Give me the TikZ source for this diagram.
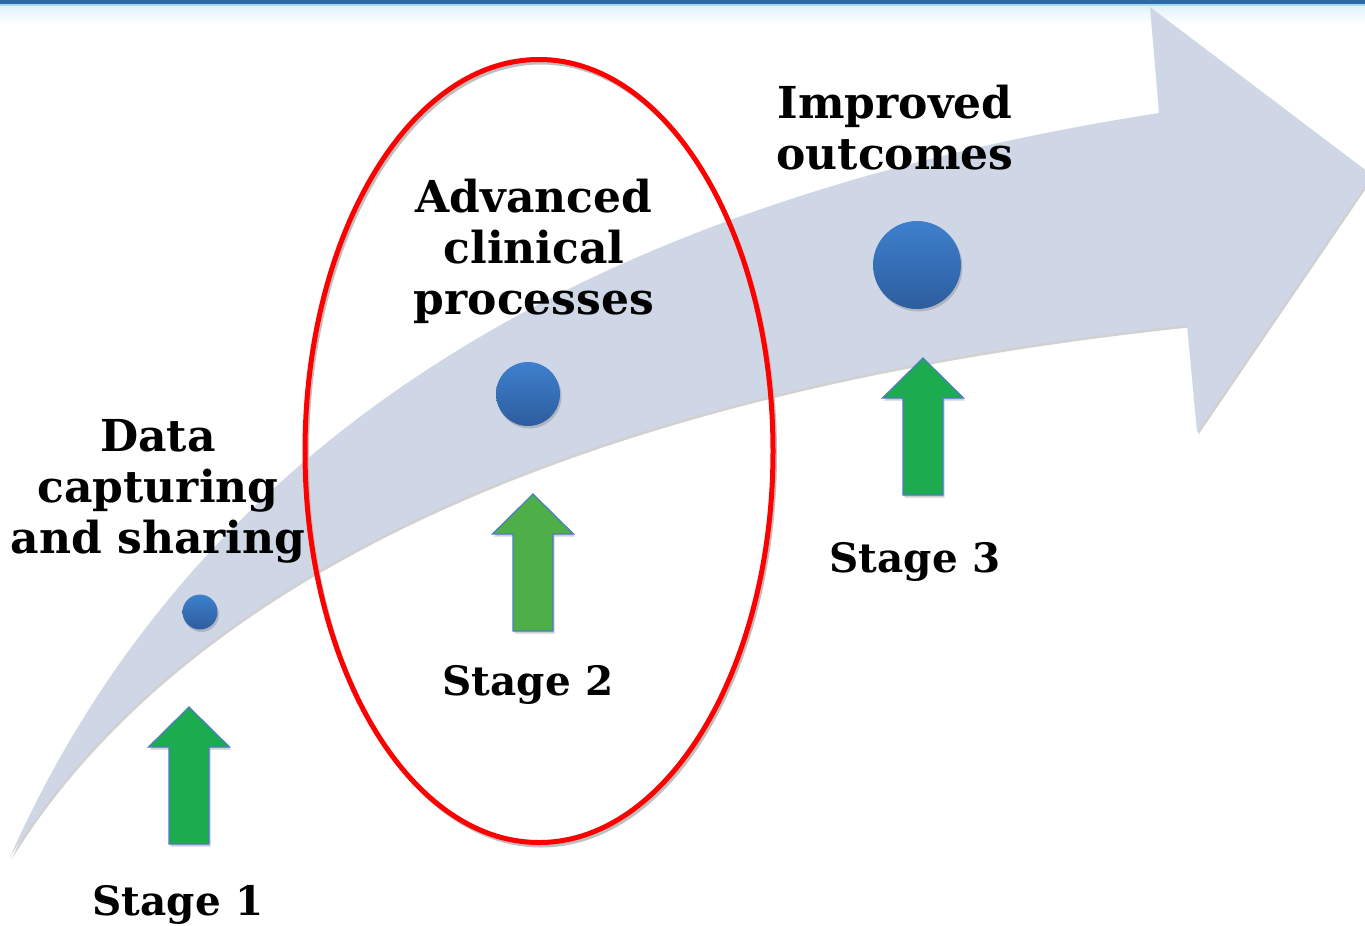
\documentclass[tikz,border=0pt]{standalone}
\usepackage{fontspec}
\setmainfont{DejaVu Serif}
\usetikzlibrary{shadows,shapes.geometric}
\definecolor{band}{HTML}{CFD7E6}
\definecolor{stripdark}{HTML}{2C6BA6}
\definecolor{striplight}{HTML}{A8DCEB}
\definecolor{dottop}{HTML}{3E80CD}
\definecolor{dotbot}{HTML}{2D5D9E}
\definecolor{greenA}{HTML}{1DAB4F}
\definecolor{greenB}{HTML}{4EAE47}
\definecolor{arrowblue}{HTML}{4A7CC4}
\definecolor{ringred}{HTML}{FF0000}
\tikzset{
  softshadow/.style={drop shadow={shadow xshift=1.5pt, shadow yshift=-2.5pt, opacity=0.3, fill=black!60}},
  dot/.style={circle, inner sep=0pt, draw=none, top color=dottop, bottom color=dotbot, softshadow},
  label/.style={font=\fontsize{44}{51}\selectfont\bfseries, align=center, inner sep=0pt, text=black},
  stagelabel/.style={font=\fontsize{40.5}{50}\selectfont\bfseries, inner sep=0pt, text=black},
  uparrow/.pic={\path[pic actions, draw=arrowblue, line width=1.2pt, softshadow]
      (0,0) -- (40.5,40) -- (20,40) -- (20,137) -- (-20,137) -- (-20,40) -- (-40.5,40) -- cycle;}
}
\begin{document}
\begin{tikzpicture}[x=1pt,y=-1pt]
\useasboundingbox (0,0) rectangle (1365,926);
% top strip
\fill[white] (0,0) rectangle (1365,926);
\fill[top color=striplight!35, bottom color=white] (0,6) rectangle (1365,24);
\fill[stripdark] (0,0) rectangle (1365,4);
\fill[striplight] (0,4) rectangle (1365,6);
% curved arrow band
\path[fill=band, drop shadow={shadow xshift=1.5pt, shadow yshift=-2.5pt, opacity=0.4, fill=black!45}]
  (10,857) .. controls (200,430) and (600,200) .. (1159,113)
  -- (1150,7) -- (1372,175) -- (1197,432) -- (1187,325)
  .. controls (480,400) and (150,630) .. (10,857) -- cycle;
% red ellipse with faint shadow
\draw[black!25, line width=4pt] (541,454) ellipse [x radius=234, y radius=391.5];
\node[ellipse, draw=ringred, line width=5pt, minimum width=468pt, minimum height=783pt, inner sep=0pt] (focus) at (539,451) {};
% dots
\node[dot, minimum size=35pt] (d1) at (200,612) {};
\node[dot, minimum size=64pt] (d2) at (528,394) {};
\node[dot, minimum size=88pt] (d3) at (917,265) {};
% green arrows
\pic[fill=greenA] at (189,707) {uparrow};
\pic[fill=greenB] at (533,494) {uparrow};
\pic[fill=greenA] at (923,358) {uparrow};
% labels
\node[label] (t1) at (158,491) {Data\\capturing\\and sharing};
\node[label] (t2) at (534,251) {Advanced\\clinical\\processes};
\node[label] (t3) at (895,128) {Improved\\outcomes};
\node[stagelabel, anchor=base] (s1) at (178,915) {Stage 1};
\node[stagelabel, anchor=base] (s2) at (528,695) {Stage 2};
\node[stagelabel, anchor=base] (s3) at (915,572) {Stage 3};
\end{tikzpicture}
\end{document}
